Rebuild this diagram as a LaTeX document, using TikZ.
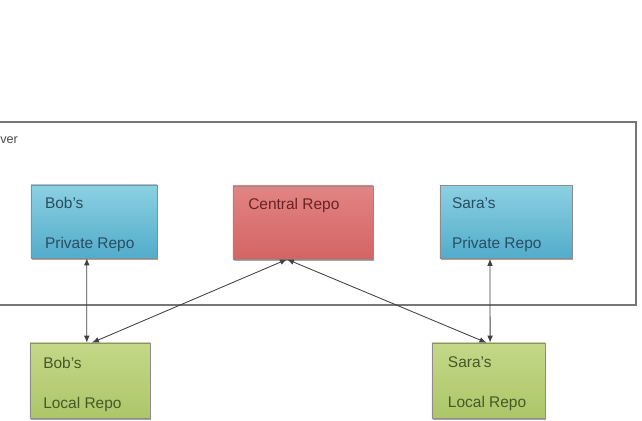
\documentclass[tikz,border=0pt]{standalone}
\usepackage{fontspec}
\setmainfont{Liberation Sans}
\usetikzlibrary{positioning}
\usetikzlibrary{shadows}
\usetikzlibrary{arrows.meta}

\definecolor{privtop}{RGB}{140,208,226}
\definecolor{privbot}{RGB}{82,172,202}
\definecolor{privtext}{RGB}{40,78,98}
\definecolor{centtop}{RGB}{226,132,132}
\definecolor{centbot}{RGB}{212,100,100}
\definecolor{centtext}{RGB}{105,35,35}
\definecolor{loctop}{RGB}{196,216,136}
\definecolor{locbot}{RGB}{172,198,104}
\definecolor{loctext}{RGB}{70,88,40}
\definecolor{frame}{RGB}{118,118,118}

\begin{document}
\begin{tikzpicture}[
    x=0.025cm, y=-0.025cm,
    repo box/.style={rectangle,draw=black!45,line width=0.3pt,minimum height=1.83cm,
      drop shadow={shadow xshift=0.5pt,shadow yshift=-1.2pt,opacity=0.7}},
    priv box/.style={repo box,top color=privtop,bottom color=privbot},
    central box/.style={repo box,top color=centtop,bottom color=centbot},
    local box/.style={repo box,top color=loctop,bottom color=locbot,minimum height=1.88cm},
    repo text/.style={inner sep=0pt,align=left,font=\fontsize{11}{28.5}\selectfont},
    link/.style={{Latex[length=5pt,width=4pt]}-{Latex[length=5pt,width=4pt]},black!75,line width=0.6pt},
    ]
  \useasboundingbox (0,0) rectangle (642,420);
  \fill[white] (0,0) rectangle (642,420);

  % server frame
  \draw[frame,line width=1.2pt] (-5,122) rectangle (636,305);
  \node[inner sep=0pt,anchor=west,font=\fontsize{9}{10}\selectfont,text=black!70] (server) at (0,140) {ver};

  % repositories
  \node[priv box,minimum width=3.15cm] (bobpriv) at (94,221.5) {};
  \node[central box,minimum width=3.5cm] (central) at (303,222.5) {};
  \node[priv box,minimum width=3.3cm] (sarapriv) at (506,222) {};
  \node[local box,minimum width=3cm] (boblocal) at (90,380.5) {};
  \node[local box,minimum width=2.83cm] (saralocal) at (488.5,380.5) {};

  \node[repo text,text=privtext,below right=0.3cm and 0.35cm of bobpriv.north west] {Bob's\\Private Repo};
  \node[repo text,text=centtext,below right=0.3cm and 0.38cm of central.north west] {Central Repo};
  \node[repo text,text=privtext,below right=0.3cm and 0.3cm of sarapriv.north west] {Sara's\\Private Repo};
  \node[repo text,text=loctext,below right=0.35cm and 0.33cm of boblocal.north west] {Bob's\\Local Repo};
  \node[repo text,text=loctext,below right=0.35cm and 0.4cm of saralocal.north west] {Sara's\\Local Repo};

  % push / pull
  \draw[link] ([xshift=-0.18cm]bobpriv.south) -- ([xshift=-0.08cm]boblocal.north);
  \draw[link] ([xshift=-0.4cm]central.south) -- ([xshift=0.05cm]boblocal.north);
  \draw[link] ([xshift=-0.4cm]central.south) -- ([xshift=-0.05cm]saralocal.north);
  \draw[link] ([xshift=-0.4cm]sarapriv.south) -- ([xshift=0.04cm]saralocal.north);
\end{tikzpicture}
\end{document}
